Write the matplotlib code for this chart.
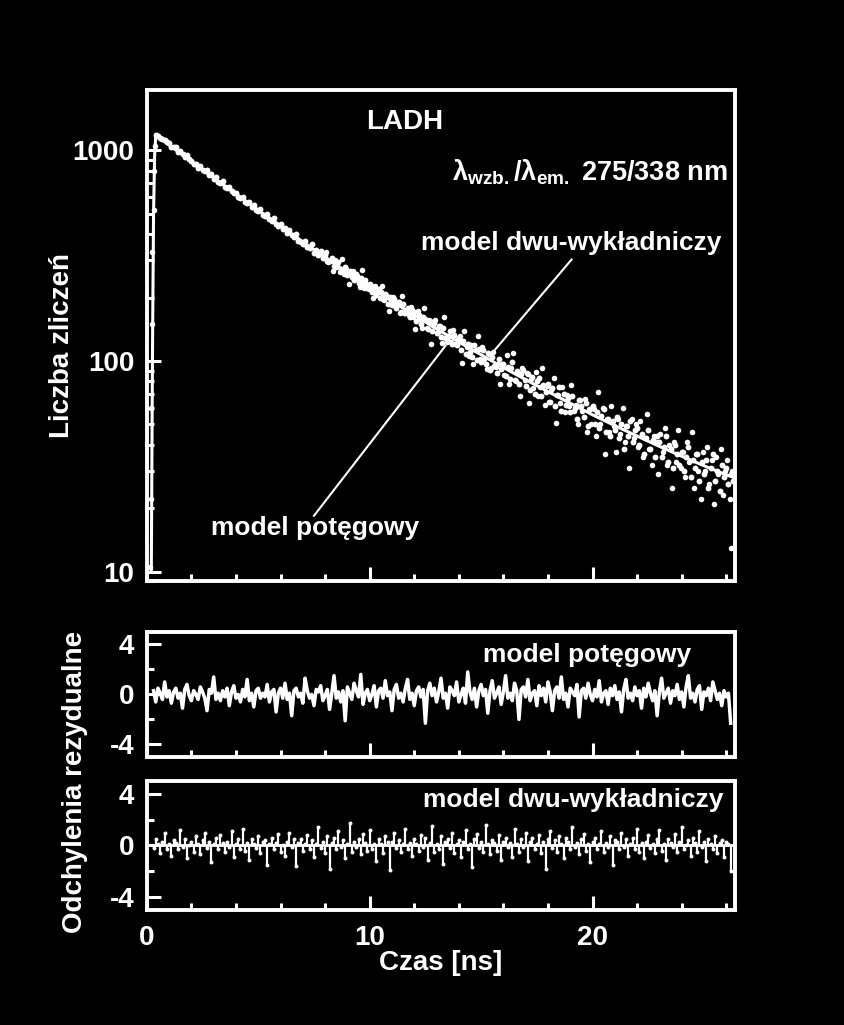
import numpy as np
import matplotlib
matplotlib.use("Agg")
import matplotlib.pyplot as plt
from matplotlib.ticker import LogLocator, MultipleLocator, NullFormatter

plt.rcParams['font.family'] = ['Liberation Sans', 'DejaVu Sans']
plt.rcParams['font.weight'] = 'bold'
plt.rcParams['mathtext.fontset'] = 'custom'
plt.rcParams['mathtext.rm'] = 'Liberation Sans'
plt.rcParams['mathtext.bf'] = 'Liberation Sans:bold'
plt.rcParams['mathtext.default'] = 'regular'

# decay counts, channel width 0.1 ns starting at 0.4 ns
decay_t = np.arange(4, 264) / 10
decay_counts = [
    1182, 1165, 1148, 1129, 1118, 1090,
    1078, 1032, 1035, 1040, 981, 992, 958, 931, 947, 905,
    893, 861, 862, 828, 845, 806, 797, 805, 762, 768,
    731, 744, 709, 698, 712, 672, 659, 671, 638, 629,
    628, 601, 594, 603, 571, 562, 571, 541, 548, 522,
    513, 524, 495, 486, 501, 470, 461, 476, 448, 439,
    446, 421, 426, 403, 419, 395, 388, 402, 372, 368,
    360, 371, 349, 344, 358, 326, 338, 319, 331, 309,
    318, 299, 297, 308, 283, 280, 294, 270, 266, 279,
    256, 268, 249, 243, 258, 235, 247, 228, 241, 222,
    233, 212, 224, 205, 219, 212, 196, 209, 187, 201,
    184, 197, 179, 190, 171, 186, 168, 179, 162, 174,
    171, 155, 166, 149, 162, 158, 142, 154, 139, 151,
    135, 147, 130, 143, 128, 124, 138, 121, 133, 119,
    129, 113, 125, 108, 121, 110, 104, 119, 101, 114,
    99, 113, 97, 109, 91, 104, 95, 88, 102, 92,
    97, 85, 94, 82, 99, 81, 90, 78, 87, 91,
    76, 87, 73, 84, 70, 80, 83, 68, 77, 71,
    78, 64, 74, 61, 69, 75, 58, 70, 62, 67,
    57, 68, 60, 53, 65, 61, 54, 63, 49, 59,
    61, 50, 57, 48, 55, 59, 46, 53, 44, 52,
    47, 54, 43, 50, 38, 49, 44, 52, 41, 47,
    48, 40, 45, 36, 43, 47, 38, 42, 35, 44,
    41, 35, 39, 44, 33, 38, 31, 40, 36, 32,
    37, 30, 35, 39, 28, 34, 31, 36, 27, 33,
    29, 34, 25, 31, 36, 27, 30, 24, 32, 28,
    31, 26, 29, 27,
]

# interleaved channels (8.05 ns onward), noisier tail
decay_t2 = np.arange(161, 526, 2) / 20
decay_counts2 = [
    330, 296, 303, 267, 303, 282, 265, 305, 260, 274,
    231, 261, 268, 245, 254, 224, 269, 223, 231, 220,
    227, 199, 226, 211, 198, 227, 195, 205, 172, 195,
    201, 184, 191, 168, 203, 168, 174, 166, 181, 162,
    142, 173, 158, 144, 179, 144, 157, 121, 148, 156,
    137, 147, 122, 162, 123, 132, 123, 141, 121, 127,
    131, 98, 138, 116, 106, 119, 97, 113, 131, 102,
    116, 102, 92, 108, 93, 110, 94, 97, 78, 97,
    86, 107, 78, 93, 109, 80, 88, 68, 93, 81,
    88, 63, 82, 74, 89, 68, 75, 93, 62, 76,
    64, 73, 83, 51, 69, 63, 75, 57, 69, 61,
    77, 58, 62, 50, 65, 58, 66, 46, 59, 50,
    59, 44, 71, 50, 60, 36, 53, 46, 61, 49,
    37, 53, 45, 60, 41, 49, 31, 53, 43, 50,
    39, 52, 35, 43, 56, 38, 32, 44, 41, 29,
    45, 37, 48, 32, 40, 25, 41, 33, 47, 31,
    37, 28, 41, 33, 46, 25, 36, 30, 22, 37,
    30, 39, 26, 34, 21, 35, 29, 38, 23, 30,
    34, 22, 30,
]

# rising edge of the pulse and one stray point at the end
rise_t = [0.15, 0.2, 0.2, 0.25, 0.25, 0.3, 0.3, 0.35, 26.2]
rise_counts = [10.5, 22, 60, 150, 330, 520, 800, 1050, 13]

# fitted curve
fit_t = [0.2, 0.25, 0.3, 0.35, 0.4, 1, 2, 3, 4, 5, 6, 7, 8, 9, 10, 11, 12, 13,
         14, 15, 16, 17, 18, 19, 20, 21, 22, 23, 24, 25, 26, 26.4]
fit_counts = [10, 100, 500, 950, 1180, 1060, 885, 740, 620, 520, 437, 368, 311,
              264, 225, 192, 165, 142, 123, 107, 93, 81.5, 71.5, 63, 55.5, 49.3,
              44, 39.3, 35.3, 31.8, 28.8, 27.8]

# weighted residuals, 0.1 ns from 0.3 ns
res_t = np.arange(3, 263) / 10
res_power = [
    0.3, -0.6, 0.5, 0.1, -0.4, 1.0, -0.2, 0.3, -0.7, 0.2, 0.5, -0.3, 0.1, -1.1, 0.4, 0.8, -0.1, -0.5, 0.3, 0.0,
    -0.4, 0.6, 0.2, -0.3, -1.3, 0.4, 0.1, 1.4, -0.4, 0.1, -0.5, 0.3, -0.2, 0.5, -0.9, 0.2, 0.7, -0.3, 0.0, -0.6,
    0.4, -0.2, 1.2, -0.5, 0.1, -1.0, 0.3, 0.5, -0.3, 0.1, -0.2, 0.8, -0.6, 0.2, 0.4, -1.4, 0.1, 0.5, -0.3, 0.9,
    -0.4, 0.1, -1.7, 0.3, 0.5, -0.2, 0.1, -0.7, 1.3, 0.3, -0.3, 0.0, -0.9, 0.4, 0.2, 0.7, -0.5, -0.1, 0.4, -1.2,
    0.1, 1.5, -0.3, 0.2, -0.6, 0.3, -2.1, 0.6, 0.1, -0.4, 0.9, 0.3, -0.2, 1.6, -0.8, 0.1, 0.4, -0.5, 0.0, 0.7,
    -1.0, 0.3, 0.5, -0.3, 1.1, -0.1, 0.2, -1.3, 0.4, 0.8, -0.3, 0.1, -0.6, 0.5, 1.2, -0.4, 0.1, -0.9, 0.3, 0.6,
    -0.2, 0.4, -2.3, 0.3, 0.9, -0.1, 0.5, -0.6, 0.2, 1.3, -0.3, 0.1, -1.1, 0.6, 0.3, -0.1, 1.0, -0.6, 0.0, 0.5,
    -0.7, 1.8, 0.2, -0.4, 0.5, -1.0, 0.3, 0.8, -0.1, 0.4, -1.5, 0.3, 1.1, -0.3, 0.1, 0.6, -0.8, 0.2, 1.5, -0.3,
    0.1, -0.5, 0.9, 0.3, -2.0, 0.4, 0.6, -0.2, 1.2, -0.5, 0.1, 0.3, -0.9, 0.7, -0.1, 0.5, -0.6, 1.0, 0.2, -1.3,
    0.3, 0.6, -0.3, 1.4, -0.4, 0.1, -1.0, 0.5, 0.2, -0.1, 0.8, -1.8, 0.3, 0.5, -0.3, 0.9, 0.0, -0.5, 0.4, -0.2,
    1.1, -0.6, 0.1, 0.3, -0.8, 0.5, -0.1, 0.7, -0.4, 0.2, -1.4, 0.4, 1.2, -0.3, 0.1, -0.5, 0.6, -0.1, 0.3, -1.1,
    0.5, -0.2, 0.9, 0.1, -0.5, 0.3, -1.7, 0.2, 1.3, -0.3, 0.1, 0.5, -0.7, 0.3, -0.1, 0.8, -0.4, 0.2, -1.0, 0.6,
    1.5, -0.3, 0.1, -0.6, 0.4, 0.7, -1.2, 0.2, -0.1, 0.5, -0.5, 1.0, 0.3, -0.4, 0.1, -0.9, 0.3, -0.2, 0.1, -2.3,
]
res_biexp = [
    -0.2, 0.5, 0.1, -0.6, 0.3, 1.0, -0.3, 0.1, -0.8, 0.4, 0.2, -0.3, 1.2, -0.1, 0.5, -1.0, 0.0, 0.3, -0.5, 0.7,
    0.1, -0.7, 0.4, 1.0, -0.2, 0.3, -1.3, 0.1, 0.6, -0.3, 0.8, 0.2, -0.5, 0.3, -0.1, 1.1, -0.9, 0.1, 0.5, -0.3,
    1.3, -0.4, 0.2, -1.1, 0.5, 0.1, -0.2, 0.7, -0.6, 0.3, 0.4, -1.5, 0.1, 0.6, -0.3, 0.2, 0.9, -0.5, 0.0, -0.8,
    0.3, 1.0, -0.1, 0.5, -1.6, 0.2, 0.5, -0.4, 0.1, 0.8, -0.3, 0.4, -0.9, 0.1, 1.4, -0.2, 0.3, -0.6, 0.7, -1.8,
    0.2, 0.6, -0.3, 1.1, -0.1, 0.4, -1.0, 0.1, 1.7, -0.5, 0.3, -0.1, 0.5, -0.7, 0.9, 0.2, -0.4, 1.2, -0.3, 0.1,
    -1.2, 0.5, 0.1, -0.6, 0.7, 0.3, -1.9, 0.3, 1.0, -0.2, 0.4, -0.5, 0.1, 1.3, -0.3, 0.2, -0.8, 0.5, 0.1, -0.4,
    0.8, -0.1, 0.6, -1.1, 0.2, 1.5, -0.5, 0.1, -0.3, 0.7, -1.4, 0.3, 0.5, -0.2, 1.0, -0.6, 0.1, 0.4, -0.9, 0.3,
    1.2, -0.3, 0.1, -1.7, 0.5, 0.9, -0.2, 0.3, -0.5, 1.6, 0.1, -0.7, 0.4, 0.2, -0.4, 0.8, -1.1, 0.3, 0.6, -0.1,
    0.2, -0.9, 1.3, 0.1, -0.5, 0.5, -0.1, 1.0, -1.2, 0.3, 0.6, -0.3, 0.1, 0.8, -0.6, 0.3, -1.8, 0.5, 1.1, -0.2,
    0.4, -0.5, 0.7, 0.1, -1.0, 0.6, 0.3, -0.3, 1.4, -0.1, 0.2, -0.7, 0.5, 0.9, -0.4, 0.1, -1.3, 0.3, 0.6, -0.3,
    0.1, 1.1, -0.5, 0.2, -0.1, 0.7, -1.5, 0.4, 0.3, -0.3, 1.0, -0.1, 0.5, -0.8, 0.1, 0.6, -0.3, 1.3, -0.5, 0.2,
    -1.0, 0.3, 0.8, -0.2, 0.1, -0.6, 0.5, 1.2, -0.4, 0.1, -1.1, 0.5, 0.2, -0.1, 0.9, -0.5, 0.3, 1.4, -0.3, 0.0,
    0.4, -0.8, 0.6, 0.2, -0.5, 1.1, -0.1, 0.3, -1.2, 0.5, 0.1, -0.3, 0.7, -0.6, 0.2, 0.4, -0.9, 0.3, 0.1, -2.0,
]

FG = "white"
fig = plt.figure(figsize=(8.44, 10.25), dpi=100, facecolor="black")
ax = fig.add_axes([0.174, 0.433, 0.697, 0.479])
ax_p = fig.add_axes([0.174, 0.2615, 0.697, 0.122])
ax_b = fig.add_axes([0.174, 0.1122, 0.697, 0.126])


def style(a):
    a.set_facecolor("black")
    for s in a.spines.values():
        s.set_color(FG)
        s.set_linewidth(2.8)
    a.tick_params(which="both", colors=FG, direction="in", width=2.2,
                  labelsize=20, top=False, right=False)
    a.tick_params(which="major", length=10)
    a.tick_params(which="minor", length=5)
    a.tick_params(axis="y", pad=9)
    a.tick_params(axis="x", pad=11)
    a.set_xlim(0, 26.4)
    a.xaxis.set_major_locator(MultipleLocator(10))
    a.xaxis.set_minor_locator(MultipleLocator(2))


for a in (ax, ax_p, ax_b):
    style(a)

# decay panel
ax.set_yscale("log")
ax.set_ylim(9, 1930)
ax.scatter(decay_t, decay_counts, s=18, color=FG, linewidths=0, zorder=3)
ax.scatter(decay_t2, decay_counts2, s=16, color=FG, linewidths=0, zorder=3)
ax.scatter(rise_t, rise_counts, s=16, color=FG, linewidths=0, zorder=3)
ax.plot(fit_t, fit_counts, color=FG, lw=2.2, zorder=4)
ax.set_yticks([10, 100, 1000], ["10", "100", "1000"])
ax.yaxis.set_minor_locator(LogLocator(base=10, subs=np.arange(2, 10)))
ax.yaxis.set_minor_formatter(NullFormatter())
ax.tick_params(axis="x", labelbottom=False)

ax.text(0.439, 0.935, "LADH", transform=ax.transAxes, color=FG, fontsize=20,
        ha="center", va="center")
ax.text(0.519, 0.833,
        r"$\mathrm{\lambda}_{\mathbf{wzb.}}/\mathrm{\lambda}_{\mathbf{em.}}$ 275/338 nm",
        transform=ax.transAxes, color=FG, fontsize=19.5, ha="left", va="center")
ax.text(0.466, 0.688, "model dwu-wykładniczy", transform=ax.transAxes,
        color=FG, fontsize=19, ha="left", va="center")
ax.text(0.109, 0.108, "model potęgowy", transform=ax.transAxes,
        color=FG, fontsize=19, ha="left", va="center")
ax.plot([19.06, 15.4], [303, 106], color=FG, lw=1.5)
ax.plot([7.5, 13.4], [18.4, 118], color=FG, lw=1.5)

# residual panels
for a in (ax_p, ax_b):
    a.set_ylim(-5, 5)
    a.set_yticks([-4, 0, 4], ["-4", "0", "4"])
    a.yaxis.set_minor_locator(MultipleLocator(2))

ax_p.plot(res_t, res_power, color=FG, lw=2.5)
ax_p.tick_params(axis="x", labelbottom=False)
ax_p.text(0.571, 0.816, "model potęgowy", transform=ax_p.transAxes,
          color=FG, fontsize=19, ha="left", va="center")

ax_b.axhline(0, color=FG, lw=2)
ax_b.vlines(res_t, 0, res_biexp, color=FG, lw=1.6)
ax_b.scatter(res_t, res_biexp, s=8, color=FG, linewidths=0)
ax_b.text(0.469, 0.853, "model dwu-wykładniczy", transform=ax_b.transAxes,
          color=FG, fontsize=19, ha="left", va="center")
ax_b.set_xticks([0, 10, 20], ["0", "10", "20"])

fig.text(0.0735, 0.663, "Liczba zliczeń", color=FG, fontsize=20,
         rotation=90, ha="center", va="center")
fig.text(0.089, 0.237, "Odchylenia rezydualne", color=FG, fontsize=20,
         rotation=90, ha="center", va="center")
fig.text(0.522, 0.0605, "Czas [ns]", color=FG, fontsize=20,
         ha="center", va="center")

fig.savefig("out.png", dpi=100, facecolor="black")
